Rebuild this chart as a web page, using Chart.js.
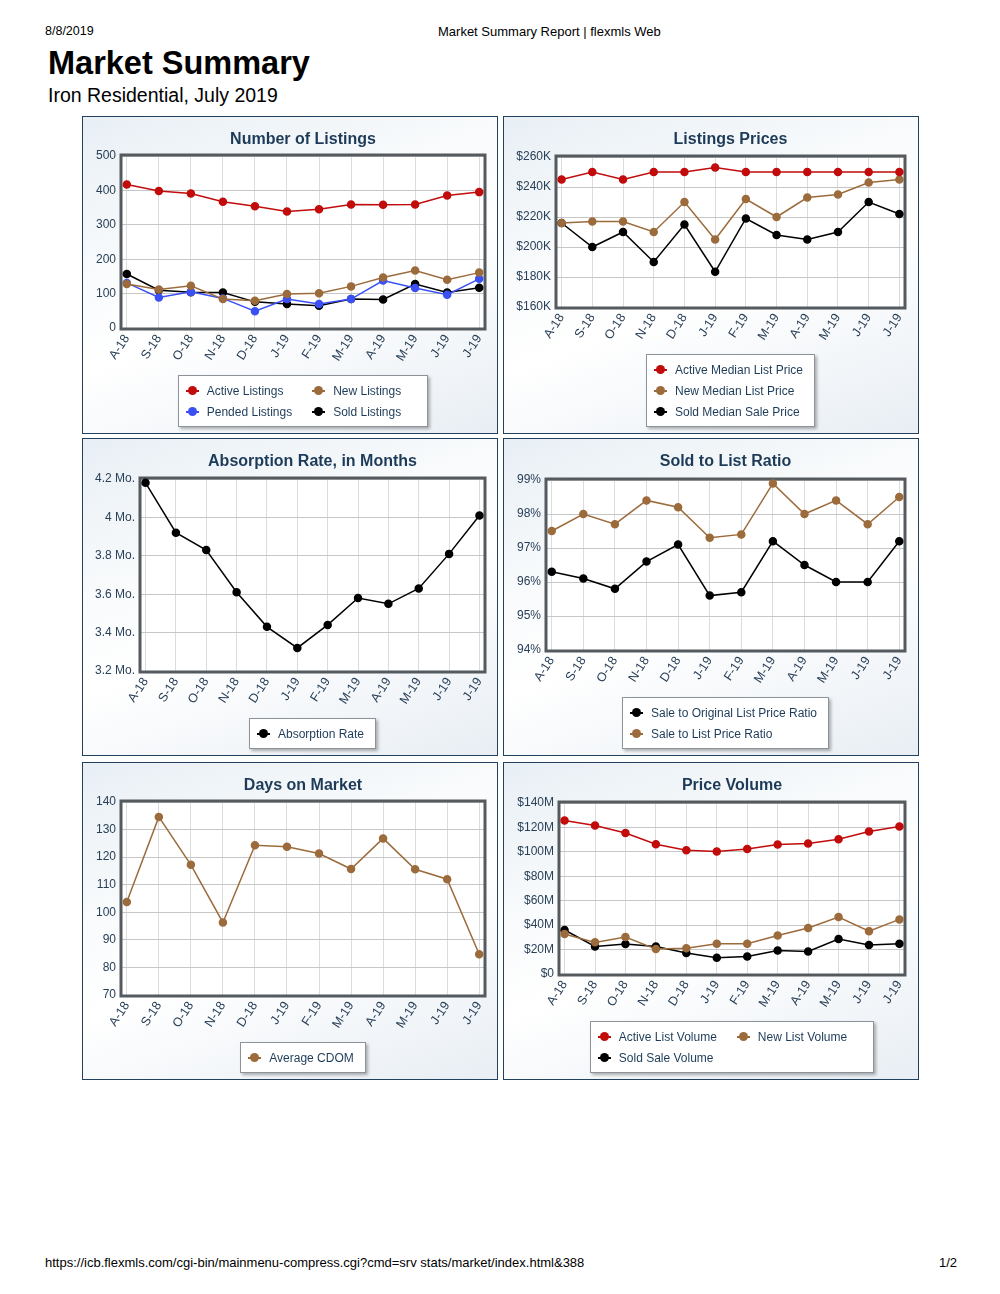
<!DOCTYPE html>
<html>
<head>
<meta charset="utf-8">
<script src="https://cdn.jsdelivr.net/npm/chart.js@4.4.0/dist/chart.umd.min.js"></script>
<style>
  body { margin: 0; width: 1000px; height: 1294px; position: relative; background: #fff; font-family: "Liberation Sans", Arial, sans-serif; }
  .hdr { position: absolute; font-size: 12px; line-height: 1; color: #000; white-space: nowrap; }
  .panel { position: absolute; width: 414px; height: 316px; border: 1px solid #22415f;
           background: linear-gradient(160deg, #e8eff5 0%, #f9fbfc 35%, #ffffff 55%, #e8eef4 100%); }
  .panel canvas { position: absolute; left: 0; top: 0; }
  .ttl { position: absolute; top: 13px; font-weight: bold; font-size: 16px; line-height: 18px; color: #1d3b58; text-align: center; white-space: nowrap; }
  .lgwrap { position: absolute; bottom: 6px; display: flex; justify-content: center; }
  .lg { background: #fff; border: 1px solid #8d939b; box-shadow: 2px 2px 3px rgba(0,0,0,.3);
        padding: 4px 11px 4px 7px; display: grid; column-gap: 20px; font-size: 12px; color: #1d3b58; }
  .it { display: flex; align-items: center; height: 21px; white-space: nowrap; }
  .mk { position: relative; width: 13px; height: 9px; margin-right: 8px; }
  .mk::before { content: ""; position: absolute; left: 0; right: 0; top: 4px; height: 1.5px; background: var(--c); }
  .mk::after { content: ""; position: absolute; left: 2px; top: 0; width: 9px; height: 9px; border-radius: 50%; background: var(--c); }
</style>
</head>
<body>
<div class="hdr" style="left:45px;top:25px;font-size:12.5px">8/8/2019</div>
<div class="hdr" style="left:438px;top:25px;font-size:13px">Market Summary Report | flexmls Web</div>
<div class="hdr" style="left:48px;top:47px;font-size:32.5px;font-weight:bold">Market Summary</div>
<div class="hdr" style="left:48px;top:86px;font-size:19.5px">Iron Residential, July 2019</div>
<div class="hdr" style="left:45px;top:1256px;font-size:13px">https://icb.flexmls.com/cgi-bin/mainmenu-compress.cgi?cmd=srv stats/market/index.html&amp;388</div>
<div class="hdr" style="right:43px;top:1256px;font-size:13px">1/2</div>

<script>
// -------- Datos --------
const MONTHS = ["A-18", "S-18", "O-18", "N-18", "D-18", "J-19", "F-19", "M-19", "A-19", "M-19", "J-19", "J-19"];

const activeListings = [417, 398, 391, 367, 354, 339, 345, 359, 358, 359, 385, 395];
const newListings    = [128, 112, 123, 84, 79, 99, 101, 121, 147, 167, 140, 161];
const pendedListings = [131, 89, 105, 86, 49, 84, 70, 84, 138, 116, 97, 143];
const soldListings   = [157, 110, 104, 103, 76, 70, 65, 84, 83, 128, 103, 117];

// precios en miles de dólares
const activeMedianK = [245, 250, 245, 250, 250, 253, 250, 250, 250, 250, 250, 250];
const newMedianK    = [216, 217, 217, 210, 230, 205, 232, 220, 233, 235, 243, 245];
const soldMedianK   = [216, 200, 210, 190, 215, 183.5, 219, 208, 205, 210, 230, 222];

const absorptionRate = [4.18, 3.92, 3.83, 3.61, 3.43, 3.32, 3.44, 3.58, 3.55, 3.63, 3.81, 4.01];

const saleToOriginal = [96.3, 96.1, 95.8, 96.6, 97.1, 95.6, 95.7, 97.2, 96.5, 96.0, 96.0, 97.2];
const saleToList     = [97.5, 98.0, 97.7, 98.4, 98.2, 97.3, 97.4, 98.9, 98.0, 98.4, 97.7, 98.5];

const averageCdom = [103.7, 134.6, 117.2, 96.3, 124.3, 123.8, 121.3, 115.7, 126.8, 115.6, 112.0, 84.8];

// volumen en millones de dólares
const activeVolumeM = [125.6, 121.5, 115.5, 106.2, 101.3, 100.2, 102.4, 106.0, 106.8, 110.3, 116.6, 120.7];
const newVolumeM    = [32.7, 25.9, 30.2, 20.4, 21.0, 24.8, 24.8, 31.6, 37.6, 46.6, 35.1, 44.7];
const soldVolumeM   = [36.0, 22.6, 24.5, 22.6, 17.2, 13.3, 14.4, 19.3, 18.5, 28.6, 23.7, 24.8];

const RED = "#c20b0b", BROWN = "#9c6b3c", BLUE = "#3a50f5", BLACK = "#000000";
const TICK_COLOR = "#2a4058";

// -------- Marco del área de trazado --------
const plotFrame = {
  id: "plotFrame",
  beforeDraw(chart) {
    const { ctx, chartArea: a } = chart;
    ctx.save();
    ctx.fillStyle = "#ffffff";
    ctx.fillRect(a.left, a.top, a.width, a.height);
    ctx.restore();
  },
  beforeDatasetsDraw(chart) {
    const { ctx, chartArea: a } = chart;
    ctx.save();
    ctx.strokeStyle = "#555a5f";
    ctx.lineWidth = 3;
    ctx.strokeRect(a.left - 1, a.top - 1, a.width + 2, a.height + 2);
    ctx.restore();
  }
};

function series(label, values, color) {
  return {
    label,
    data: values.map((v, i) => ({ x: i, y: v })),
    borderColor: color,
    backgroundColor: color,
    borderWidth: 1.5,
    pointRadius: 3.5,
    pointHoverRadius: 3.5,
    tension: 0,
    clip: false
  };
}

// plot = área de trazado en coordenadas del panel
function makePanel(left, top, title, plot, yScale, datasets, cols) {
  const panel = document.createElement("div");
  panel.className = "panel";
  panel.style.left = left + "px";
  panel.style.top = top + "px";
  document.body.appendChild(panel);

  const H = plot.b + 50;
  const YW = plot.l - 3;
  const canvas = document.createElement("canvas");
  canvas.width = 414;
  canvas.height = H;
  canvas.style.width = "414px";
  canvas.style.height = H + "px";
  panel.appendChild(canvas);

  const chart = new Chart(canvas.getContext("2d"), {
    type: "line",
    data: { datasets },
    options: {
      responsive: false,
      animation: false,
      events: [],
      layout: { padding: { left: 3, top: plot.t, right: 414 - plot.r, bottom: 0 } },
      plugins: { legend: { display: false }, tooltip: { enabled: false }, title: { display: false } },
      scales: {
        x: {
          type: "linear",
          min: -0.15,
          max: MONTHS.length - 1 + 0.15,
          afterBuildTicks: s => { s.ticks = MONTHS.map((_, i) => ({ value: i })); },
          afterFit: s => { s.height = H - plot.b; },
          grid: { color: "#dcdcdc", lineWidth: 1, drawTicks: false },
          border: { display: false },
          ticks: {
            autoSkip: false, maxRotation: 57, minRotation: 57, padding: 4,
            color: TICK_COLOR, font: { family: "Liberation Sans", size: 12.5 },
            callback: v => MONTHS[v]
          }
        },
        y: {
          min: yScale.min,
          max: yScale.max,
          afterFit: s => { s.width = YW; },
          grid: { color: "#c6c6c6", lineWidth: 1, drawTicks: false },
          border: { display: false },
          ticks: {
            stepSize: yScale.step, padding: 6,
            color: TICK_COLOR, font: { family: "Liberation Sans", size: 12 },
            callback: yScale.fmt
          }
        }
      }
    },
    plugins: [plotFrame]
  });

  const a = chart.chartArea;
  const ttl = document.createElement("div");
  ttl.className = "ttl";
  ttl.style.left = a.left + "px";
  ttl.style.width = a.width + "px";
  ttl.textContent = title;
  panel.appendChild(ttl);

  // Leyenda en HTML construida desde los datasets
  const wrap = document.createElement("div");
  wrap.className = "lgwrap";
  wrap.style.left = a.left + "px";
  wrap.style.width = a.width + "px";
  const lg = document.createElement("div");
  lg.className = "lg";
  lg.style.gridTemplateColumns = `repeat(${cols}, auto)`;
  if (cols > 1) lg.style.paddingRight = "26px";
  chart.data.datasets.forEach(ds => {
    const it = document.createElement("div");
    it.className = "it";
    it.innerHTML = `<span class="mk" style="--c:${ds.borderColor}"></span><span></span>`;
    it.lastChild.textContent = ds.label;
    lg.appendChild(it);
  });
  wrap.appendChild(lg);
  panel.appendChild(wrap);
  return chart;
}

// -------- Gráficos --------
makePanel(82, 116, "Number of Listings",
  { l: 39, r: 401, t: 39, b: 211 },
  { min: 0, max: 500, step: 100, fmt: v => v },
  [series("Active Listings", activeListings, RED),
   series("New Listings", newListings, BROWN),
   series("Pended Listings", pendedListings, BLUE),
   series("Sold Listings", soldListings, BLACK)], 2);

makePanel(503, 116, "Listings Prices",
  { l: 53, r: 400, t: 40, b: 190 },
  { min: 160, max: 260, step: 20, fmt: v => "$" + v + "K" },
  [series("Active Median List Price", activeMedianK, RED),
   series("New Median List Price", newMedianK, BROWN),
   series("Sold Median Sale Price", soldMedianK, BLACK)], 1);

makePanel(82, 438, "Absorption Rate, in Months",
  { l: 58, r: 401, t: 40, b: 232 },
  { min: 3.2, max: 4.2, step: 0.2, fmt: v => Number(v.toFixed(1)) + " Mo." },
  [series("Absorption Rate", absorptionRate, BLACK)], 1);

makePanel(503, 438, "Sold to List Ratio",
  { l: 43, r: 400, t: 41, b: 211 },
  { min: 94, max: 99, step: 1, fmt: v => v + "%" },
  [series("Sale to Original List Price Ratio", saleToOriginal, BLACK),
   series("Sale to List Price Ratio", saleToList, BROWN)], 1);

makePanel(82, 762, "Days on Market",
  { l: 39, r: 401, t: 39, b: 232 },
  { min: 70, max: 140, step: 10, fmt: v => v },
  [series("Average CDOM", averageCdom, BROWN)], 1);

makePanel(503, 762, "Price Volume",
  { l: 56, r: 400, t: 40, b: 211 },
  { min: 0, max: 140, step: 20, fmt: v => v === 0 ? "$0" : "$" + v + "M" },
  [series("Active List Volume", activeVolumeM, RED),
   series("New List Volume", newVolumeM, BROWN),
   series("Sold Sale Volume", soldVolumeM, BLACK)], 2);
</script>
</body>
</html>
